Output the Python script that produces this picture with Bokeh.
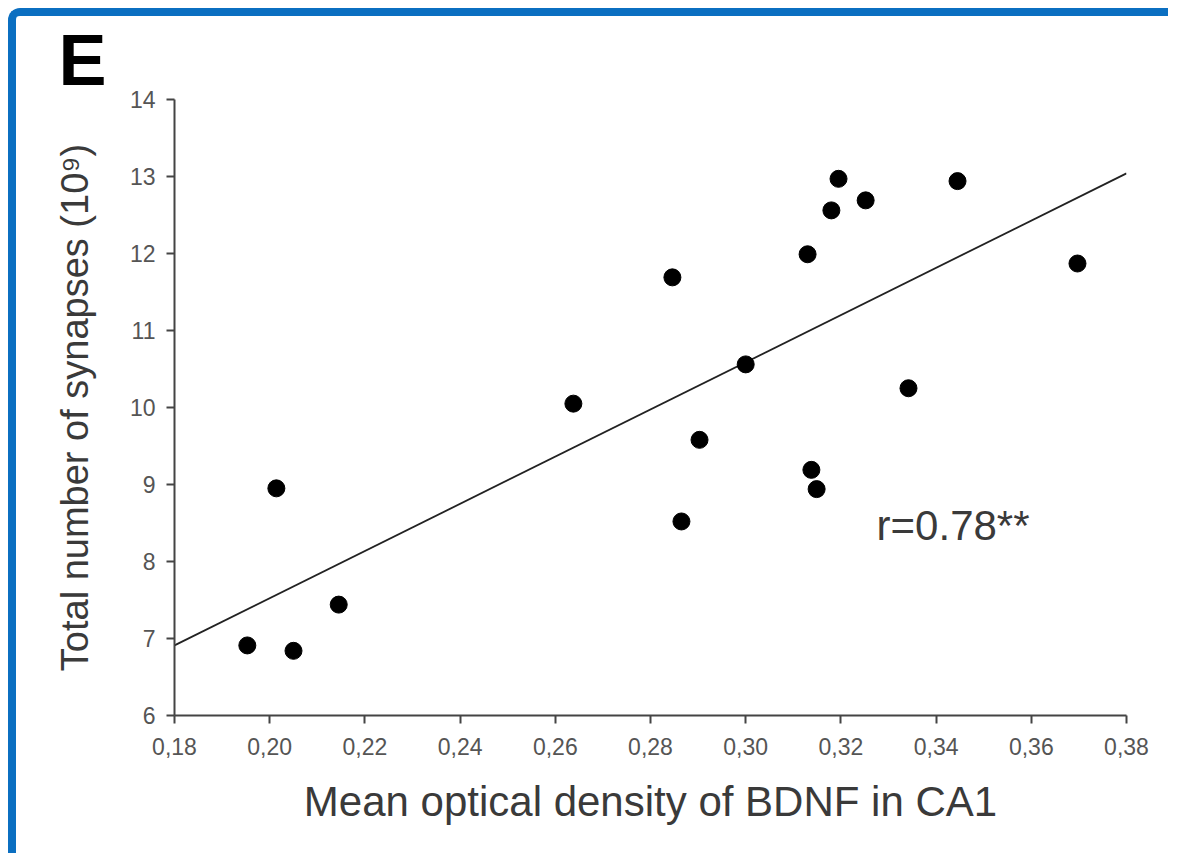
from bokeh.plotting import figure
from bokeh.models import ColumnDataSource, FixedTicker, Label, Range1d, Title
from bokeh.embed import file_html
from bokeh.resources import INLINE

# ---- data ----
bdnf = [0.1953, 0.2014, 0.2050, 0.2145, 0.2638, 0.2846, 0.2865, 0.2903, 0.3000,
        0.3130, 0.3138, 0.3149, 0.3180, 0.3195, 0.3252, 0.3342, 0.3445, 0.3697]
synapses = [6.91, 8.95, 6.84, 7.44, 10.05, 11.69, 8.52, 9.58, 10.56,
            11.99, 9.19, 8.94, 12.56, 12.97, 12.69, 10.25, 12.94, 11.87]
fit_x = [0.18, 0.38]
fit_y = [6.91, 13.04]
x_ticks = [0.18, 0.20, 0.22, 0.24, 0.26, 0.28, 0.30, 0.32, 0.34, 0.36, 0.38]
x_tick_labels = ["0,18", "0,20", "0,22", "0,24", "0,26", "0,28", "0,30",
                 "0,32", "0,34", "0,36", "0,38"]
y_ticks = [6, 7, 8, 9, 10, 11, 12, 13, 14]
panel_letter = "E"
r_text = "r=0.78**"
x_title = "Mean optical density of BDNF in CA1"
y_title = "Total number of synapses (10\u2079)"

FONT = "Liberation Sans"
AXC = "#444444"
TXT = "#3a3a3a"
BLUE = "#0B6FC1"

W, H = 1160, 845
p = figure(width=W, height=H, output_backend="svg", toolbar_location=None,
           x_range=Range1d(0.18, 0.38), y_range=Range1d(6, 14),
           min_border_left=158, min_border_top=83, min_border_right=50,
           min_border_bottom=146)
p.styles = {"position": "relative", "left": "8px", "top": "8px",
            "border-top": f"8px solid {BLUE}", "border-left": f"8px solid {BLUE}",
            "border-top-left-radius": "12px"}
p.outline_line_color = None
p.xgrid.visible = False
p.ygrid.visible = False
p.background_fill_color = "white"
p.border_fill_color = "white"

# panel letter as the plot title (sized so the title band fits above the frame)
p.title = Title(text=panel_letter, align="left", offset=-116, standoff=0,
                text_font=FONT, text_font_size="72px", text_font_style="bold",
                text_color="black")

src = ColumnDataSource(dict(x=bdnf, y=synapses))
p.line(fit_x, fit_y, line_color="#222222", line_width=1.8)
p.scatter("x", "y", source=src, size=17, fill_color="black", line_color="black")

for ax in (p.xaxis[0], p.yaxis[0]):
    ax.axis_line_color = AXC
    ax.axis_line_width = 2
    ax.major_tick_line_color = AXC
    ax.major_tick_line_width = 2
    ax.major_tick_in = 0
    ax.major_tick_out = 8
    ax.minor_tick_line_color = None
    ax.major_label_text_font = FONT
    ax.major_label_text_font_size = "23px"
    ax.major_label_text_color = "#555555"
    ax.axis_label_text_font = FONT
    ax.axis_label_text_font_style = "normal"
    ax.axis_label_text_color = TXT

p.xaxis.ticker = FixedTicker(ticks=x_ticks)
p.xaxis.major_label_overrides = {t: l for t, l in zip(x_ticks, x_tick_labels)}
p.xaxis.axis_label = x_title
p.xaxis.axis_label_text_font_size = "42px"
p.xaxis.major_label_standoff = 14
p.xaxis.axis_label_standoff = 20

p.yaxis.ticker = FixedTicker(ticks=y_ticks)
p.yaxis.axis_label = y_title
p.yaxis.axis_label_text_font_size = "38px"
p.yaxis.major_label_standoff = 11
p.yaxis.axis_label_standoff = 31

p.add_layout(Label(x=0.3275, y=8.47, text=r_text, text_font=FONT,
                   text_font_size="42px", text_color=TXT,
                   text_baseline="alphabetic"))

open("out.html", "w").write(file_html(p, INLINE))
